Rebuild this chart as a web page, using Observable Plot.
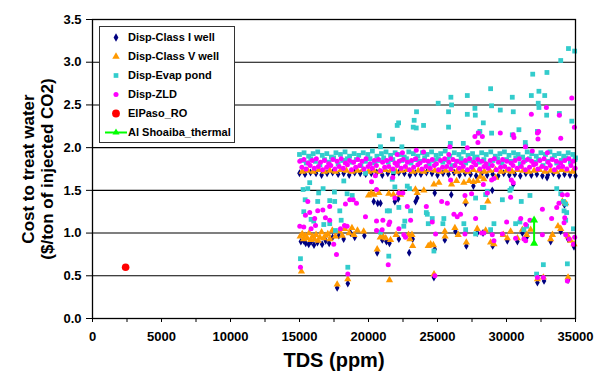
<!DOCTYPE html>
<html>
<head>
<meta charset="utf-8">
<script src="https://cdn.jsdelivr.net/npm/d3@7"></script>
<script src="https://cdn.jsdelivr.net/npm/@observablehq/plot@0.6"></script>
<style>
  body { margin: 0; background: #fff; }
  #wrap { position: relative; width: 595px; height: 373px; font-family: "Liberation Sans", Arial, sans-serif; }
  #legend { position: absolute; left: 99px; top: 26px; width: 136px; height: 117px; border: 1px solid #333; background: #fff; box-sizing: border-box; font: bold 11px "Liberation Sans", Arial, sans-serif; color: #000; }
  .row { position: absolute; left: 0; height: 19px; line-height: 19px; white-space: nowrap; }
  .row svg { position: absolute; left: 0; top: 0; }
  .row span { position: absolute; left: 28px; top: 0; }
</style>
</head>
<body>
<div id="wrap"><div id="chart"></div><div id="legend"></div></div>
<script>
// ---------- data: [TDS ppm, cost $/ton injected CO2] ----------
const classIBand = [[15000,1.70],[15400,1.69],[15800,1.71],[16200,1.70],[16600,1.68],[17000,1.70],[17400,1.71],[17800,1.69],[18200,1.70],[18600,1.68],[19000,1.71],[19400,1.70],[19800,1.69],[20200,1.70],[20600,1.71],[21000,1.68],[21400,1.70],[21800,1.69],[22200,1.71],[22600,1.70],[23000,1.68],[23400,1.70],[23800,1.69],[24200,1.71],[24600,1.70],[25000,1.68],[25400,1.70],[25800,1.69],[26200,1.71],[26600,1.68],[27000,1.70],[27400,1.69],[27800,1.67],[28200,1.70],[28600,1.68],[29000,1.69],[29400,1.67],[29800,1.70],[30200,1.68],[30600,1.69],[31000,1.67],[31400,1.70],[31800,1.68],[32200,1.69],[32600,1.67],[33000,1.68],[33400,1.70],[33800,1.67],[34200,1.69],[34600,1.68],[35000,1.67]];
const classIOut = [[15100,0.90],[15310,0.91],[15450,0.88],[15670,0.87],[15850,0.90],[16050,0.86],[16300,0.89],[16640,0.87],[16900,0.91],[17150,0.88],[17400,0.95],[17730,0.36],[17850,0.97],[18200,0.93],[18500,0.41],[18700,1.00],[19000,0.95],[19700,0.97],[20380,1.37],[20670,1.35],[20870,1.35],[20630,0.77],[21000,0.92],[21300,0.90],[21520,0.88],[21910,1.37],[22150,1.40],[22200,0.93],[22950,0.77],[23200,0.93],[23410,1.37],[23530,1.41],[24740,0.48],[24800,1.47],[24800,0.81],[25530,0.92],[26000,1.45],[26300,1.02],[27040,1.35],[27090,0.85],[27600,1.55],[27880,1.00],[28300,1.00],[28970,1.50],[29000,0.85],[30060,0.91],[30490,1.57],[30790,0.90],[31150,1.00],[31460,0.95],[32240,0.42],[32720,0.44],[32940,1.65],[33200,0.90],[33930,1.02],[34200,1.33],[34460,0.93],[34460,0.45],[34890,0.84]];

const classVBand = [[15200,1.72],[15600,1.73],[16000,1.72],[16400,1.74],[16800,1.72],[17200,1.73],[17600,1.72],[18000,1.74],[18400,1.73],[18800,1.72],[19200,1.73],[19600,1.74],[20000,1.72],[20400,1.73],[20800,1.72],[21200,1.74],[21600,1.73],[22000,1.72],[22400,1.73],[22800,1.74],[23200,1.72],[23600,1.73],[24000,1.72],[24400,1.74],[24800,1.73],[25200,1.72],[25600,1.73],[26000,1.74],[26400,1.72],[26800,1.73],[27200,1.72],[27600,1.74],[28000,1.73],[28400,1.72],[28800,1.73],[29200,1.74],[29600,1.72],[30000,1.73],[30400,1.72],[30800,1.74],[31200,1.73],[31600,1.72],[32000,1.73],[32400,1.74],[32800,1.72],[33200,1.73],[33600,1.72],[34000,1.74],[34400,1.73],[34800,1.72]];
const classVOut = [[15050,0.96],[15140,0.55],[15200,0.99],[15300,0.93],[15420,0.97],[15560,0.94],[15700,1.00],[15820,0.92],[15950,0.96],[16080,0.93],[16200,0.98],[16350,0.91],[16480,0.95],[16600,1.01],[16750,0.94],[16900,0.97],[17050,0.99],[17200,0.93],[17380,1.03],[17600,0.96],[17730,0.40],[17900,1.02],[18100,0.97],[18280,1.05],[18500,0.46],[18600,1.00],[18800,1.06],[18950,0.98],[19200,1.03],[19650,1.02],[20000,1.44],[20200,1.47],[20400,1.45],[20630,0.81],[20750,1.47],[20850,0.95],[21050,0.96],[21250,0.94],[21470,1.46],[21520,0.45],[21600,0.92],[21800,1.45],[22000,0.98],[22200,1.47],[22320,1.45],[22900,0.98],[23000,0.93],[23150,0.98],[23200,0.85],[23400,1.51],[23530,1.47],[24010,1.50],[24330,0.85],[24500,0.87],[24700,0.86],[24740,1.57],[24750,0.52],[25100,1.59],[25530,1.02],[25550,0.96],[26020,1.57],[26260,1.06],[26380,1.61],[26500,0.98],[26910,1.59],[27040,1.37],[27090,0.89],[27300,1.61],[27600,1.60],[27880,1.05],[27900,1.61],[28100,1.66],[28360,1.63],[28650,1.37],[28490,1.03],[28850,0.89],[29090,0.87],[29210,1.65],[29770,0.98],[30060,0.94],[30300,1.02],[30790,0.94],[31150,1.04],[31460,0.98],[31750,1.04],[32240,0.46],[32670,0.48],[33200,0.93],[33330,0.98],[33730,1.08],[33930,1.05],[34050,1.37],[34290,1.35],[34460,0.96],[34460,0.48],[34650,0.91],[34890,0.87]];

const evapBand = [[15000,1.92],[15330,1.94],[15660,1.90],[15990,1.93],[16320,1.95],[16650,1.91],[16980,1.93],[17310,1.89],[17640,1.94],[17970,1.92],[18300,1.95],[18630,1.90],[18960,1.93],[19290,1.91],[19620,1.94],[19950,1.92],[20280,1.96],[20610,1.90],[20940,1.93],[21270,1.95],[21600,1.91],[21930,1.94],[22260,1.92],[22590,1.89],[22920,1.95],[23250,1.93],[23580,1.90],[23910,1.94],[24240,1.92],[24570,1.95],[24900,1.91],[25230,1.93],[25560,1.96],[25890,1.90],[26220,1.94],[26550,1.92],[26880,1.95],[27210,1.91],[27540,1.93],[27870,1.89],[28200,1.94],[28530,1.92],[28860,1.95],[29190,1.90],[29520,1.93],[29850,1.95],[30180,1.91],[30510,1.94],[30840,1.92],[31170,1.89],[31500,1.95],[31830,1.93],[32160,1.90],[32490,1.94],[32820,1.92],[33150,1.95],[33480,1.91],[33810,1.93],[34140,1.90],[34470,1.94],[34800,1.92],[35000,1.88],
  [15160,1.85],[15490,1.82],[15820,1.87],[16150,1.84],[16480,1.80],[16810,1.86],[17140,1.83],[17470,1.88],[17800,1.81],[18130,1.85],[18460,1.87],[18790,1.83],[19120,1.86],[19450,1.79],[19780,1.84],[20110,1.87],[20440,1.82],[20770,1.85],[21100,1.88],[21430,1.83],[21760,1.86],[22090,1.80],[22420,1.85],[22750,1.87],[23080,1.82],[23410,1.86],[23740,1.84],[24070,1.88],[24400,1.81],[24730,1.85],[25060,1.87],[25390,1.83],[25720,1.86],[26050,1.79],[26380,1.84],[26710,1.87],[27040,1.82],[27370,1.85],[27700,1.88],[28030,1.83],[28360,1.86],[28690,1.80],[29020,1.85],[29350,1.87],[29680,1.82],[30010,1.86],[30340,1.84],[30670,1.88],[31000,1.81],[31330,1.85],[31660,1.87],[31990,1.83],[32320,1.86],[32650,1.79],[32980,1.84],[33310,1.87],[33640,1.82],[33970,1.85],[34300,1.88],[34630,1.83],[34960,1.86]];
const evapOut = [[34490,3.16],[34940,3.13],[33930,3.02],[31900,2.86],[32930,2.88],[28850,2.69],[25970,2.59],[26020,2.50],[25800,2.42],[27160,2.61],[25050,2.52],[23480,2.42],[22080,2.26],[22180,2.29],[23310,2.32],[23240,2.24],[23460,2.23],[23990,2.26],[20780,2.14],[20870,2.01],[21740,2.10],[22420,2.01],[25800,2.24],[25930,2.05],[26870,2.05],[27160,2.39],[27710,2.46],[27740,2.38],[28320,2.29],[28070,2.19],[27960,2.17],[28920,2.49],[28920,2.17],[29550,2.44],[30420,2.59],[30490,2.42],[30900,2.21],[30420,2.15],[31360,2.06],[31800,2.61],[32350,2.66],[32770,2.61],[32300,2.52],[32350,2.47],[32910,2.38],[32240,2.19],[33830,2.40],[34730,2.31],[31390,2.02],
  [21720,1.63],[21910,1.54],[18210,1.61],[15740,1.59],[15260,1.51],[15600,1.52],[16710,1.52],[17530,1.48],[16390,1.47],[15410,1.39],[16320,1.37],[17190,1.38],[17550,1.37],[18450,1.46],[18820,1.44],[17920,1.26],[15310,1.25],[15840,1.16],[16030,1.14],[16760,1.10],[17190,1.11],[18020,1.15],[17600,1.03],[21360,1.26],[15070,0.70],[18500,0.60],[21470,0.73],[20870,1.01],[21520,1.26],[22200,1.30],[23050,1.26],[24260,1.22],[24190,1.24],[24620,1.17],[22630,1.14],[22560,1.08],[24330,1.11],[25460,1.17],[25390,1.11],[26910,1.11],[27760,1.41],[28250,1.30],[24740,0.79],[29700,1.39],[31070,1.37],[31700,1.44],[30350,1.52],[30250,1.50],[28610,1.49],[28490,1.45],[28360,1.30],[29090,1.11],[30660,1.11],[30970,1.13],[31260,1.04],[31460,1.08],[28850,1.04],[32670,0.63],[32180,0.52],[34410,0.64],[34850,1.05],[34290,1.15],[33640,1.52],[33930,1.46],[34120,1.37],[34290,1.34],[34170,1.26],[34360,1.24],[19780,1.70],[21800,1.72],[22810,1.55],[22970,1.52],[27040,1.04],[27760,0.99]];

const zldBand = [[15020,1.84],[15320,1.86],[15620,1.82],[15920,1.85],[16220,1.87],[16520,1.83],[16820,1.85],[17120,1.81],[17420,1.86],[17720,1.84],[18020,1.87],[18320,1.82],[18620,1.85],[18920,1.83],[19220,1.86],[19520,1.84],[19820,1.87],[20120,1.81],[20420,1.85],[20720,1.86],[21020,1.83],[21320,1.85],[21620,1.87],[21920,1.82],[22220,1.84],[22520,1.86],[22820,1.83],[23120,1.85],[23420,1.87],[23720,1.82],[24020,1.85],[24320,1.84],[24620,1.86],[24920,1.81],[25220,1.85],[25520,1.87],[25820,1.83],[26120,1.86],[26420,1.84],[26720,1.82],[27020,1.85],[27320,1.87],[27620,1.83],[27920,1.86],[28220,1.84],[28520,1.81],[28820,1.85],[29120,1.87],[29420,1.83],[29720,1.86],[30020,1.84],[30320,1.82],[30620,1.85],[30920,1.87],[31220,1.83],[31520,1.86],[31820,1.84],[32120,1.81],[32420,1.85],[32720,1.87],[33020,1.83],[33320,1.86],[33620,1.84],[33920,1.82],[34220,1.85],[34520,1.87],[34820,1.84],
  [15170,1.77],[15470,1.75],[15770,1.79],[16070,1.76],[16370,1.78],[16670,1.74],[16970,1.77],[17270,1.79],[17570,1.75],[17870,1.78],[18170,1.76],[18470,1.80],[18770,1.74],[19070,1.77],[19370,1.79],[19670,1.75],[19970,1.78],[20270,1.76],[20570,1.79],[20870,1.73],[21170,1.77],[21470,1.78],[21770,1.75],[22070,1.79],[22370,1.76],[22670,1.78],[22970,1.74],[23270,1.77],[23570,1.80],[23870,1.75],[24170,1.78],[24470,1.76],[24770,1.79],[25070,1.74],[25370,1.77],[25670,1.78],[25970,1.75],[26270,1.79],[26570,1.76],[26870,1.78],[27170,1.74],[27470,1.77],[27770,1.80],[28070,1.75],[28370,1.78],[28670,1.76],[28970,1.79],[29270,1.74],[29570,1.77],[29870,1.78],[30170,1.75],[30470,1.79],[30770,1.76],[31070,1.78],[31370,1.74],[31670,1.77],[31970,1.80],[32270,1.75],[32570,1.78],[32870,1.76],[33170,1.79],[33470,1.74],[33770,1.77],[34070,1.78],[34370,1.75],[34670,1.79],[34970,1.76]];
const zldOut = [[34730,2.58],[34920,2.24],[32890,2.47],[31800,2.39],[33830,2.38],[33930,2.11],[27710,2.13],[27930,2.06],[29550,2.17],[30490,2.15],[30540,2.12],[32240,2.17],[32330,2.19],[32280,2.10],[31370,2.01],[31870,1.96],[32960,1.94],[25900,2.01],[25820,1.92],[27160,2.00],[22080,1.92],[22460,1.94],[23460,1.97],[23990,1.95],[28250,2.13],[27960,2.17],
  [20220,1.60],[20580,1.51],[15600,1.37],[16690,1.27],[16320,1.26],[15740,1.24],[15430,1.21],[17190,1.31],[18640,1.39],[18890,1.39],[19130,1.35],[18330,1.34],[19780,1.19],[16880,1.18],[17190,1.15],[16100,1.17],[15310,1.07],[15020,1.08],[15840,1.05],[16160,1.09],[17970,1.05],[18260,1.09],[18450,1.08],[20580,1.14],[21040,1.15],[21540,1.13],[20580,1.03],[20990,1.04],[17480,0.87],[17680,0.75],[15070,0.60],[18500,0.52],[21430,0.63],[20500,1.67],
  [21470,1.10],[21760,1.65],[22200,1.47],[22490,1.47],[21910,1.41],[22810,1.31],[23050,1.15],[22200,1.05],[22560,0.98],[22680,0.95],[24190,1.31],[24620,1.13],[24860,0.99],[25300,1.37],[25710,1.35],[25950,1.62],[26190,1.22],[26430,1.19],[26670,1.22],[26990,0.99],[26990,1.44],[27470,1.46],[27760,1.17],[24810,0.50],[28200,1.00],
  [28920,1.62],[29090,1.64],[28320,1.57],[30350,1.62],[30490,1.59],[28610,1.47],[30300,1.42],[32600,1.28],[33640,1.30],[33800,1.35],[34050,1.45],[34410,1.45],[34220,1.18],[34170,1.12],[30010,1.13],[31030,1.17],[31700,1.15],[31390,1.10],[33270,1.17],[28360,1.00],[28970,0.98],[29090,0.91],[29700,0.99],[30660,0.94],[31260,0.93],[31390,0.91],[32600,0.98],[34290,0.98],[34530,0.93],[34850,0.87],[34940,0.95],[32240,0.48],[32670,0.48],[34410,0.44]];

const elPasoRO = [[2400,0.60]];
const alShoaibaThermal = [[32000,1.15],[32000,0.88]];

const seriesNames = ["Disp-Class I well","Disp-Class V well","Disp-Evap pond","Disp-ZLD","ElPaso_RO","Al Shoaiba_thermal"];
const seriesColors = ["#000080","#FF9900","#33CCCC","#FF00FF","#FF0000","#00FF00"];
const xTicks = [0,2500,5000,7500,10000,12500,15000,17500,20000,22500,25000,27500,30000,32500,35000];
const xLabelTicks = [0,5000,10000,15000,20000,25000,30000,35000];
const yTicks = [0,0.5,1,1.5,2,2.5,3,3.5];
const xTitle = "TDS (ppm)";
const yTitle = "Cost to treat water\n($/ton of injected CO2)";

// ---------- build ----------
const rows = (arr) => arr.map(([tds, cost]) => ({tds, cost}));
const classI = rows(classIBand.concat(classIOut));
const classV = rows(classVBand.concat(classVOut));
const evap = rows(evapBand.concat(evapOut));
const zld = rows(zldBand.concat(zldOut));
const elPaso = rows(elPasoRO);
const alShoaiba = rows(alShoaibaThermal);

const font = "'Liberation Sans', Arial, sans-serif";

const chart = Plot.plot({
  width: 595,
  height: 373,
  marginLeft: 92,
  marginRight: 20,
  marginTop: 19,
  marginBottom: 55,
  style: {fontFamily: font, fontWeight: "bold", fontSize: "13px", color: "#000", background: "#fff", overflow: "visible"},
  x: {domain: [0, 35000], label: null},
  y: {domain: [0, 3.5], label: null},
  marks: [
    Plot.ruleY(yTicks.filter(d => d > 0 && d < 3.5), {stroke: "#000", strokeWidth: 1.1}),
    Plot.dot(classI, {x: "tds", y: "cost", symbol: "diamond", r: 2.4, fill: seriesColors[0]}),
    Plot.dot(classV, {x: "tds", y: "cost", symbol: "triangle", r: 2.7, fill: seriesColors[1]}),
    Plot.dot(evap, {x: "tds", y: "cost", symbol: "square", r: 2.7, fill: seriesColors[2]}),
    Plot.dot(zld, {x: "tds", y: "cost", symbol: "circle", r: 2.5, fill: seriesColors[3]}),
    Plot.dot(elPaso, {x: "tds", y: "cost", symbol: "circle", r: 3.8, fill: seriesColors[4]}),
    Plot.line(alShoaiba, {x: "tds", y: "cost", stroke: seriesColors[5], strokeWidth: 2}),
    Plot.dot(alShoaiba, {x: "tds", y: "cost", symbol: "triangle", r: 3, fill: seriesColors[5]}),
    Plot.frame({stroke: "#000", strokeWidth: 1.3}),
    Plot.axisX({ticks: xTicks, tickFormat: d => xLabelTicks.includes(d) ? String(d) : "", tickSize: 4, tickPadding: 9, fontSize: 13, fontWeight: "bold", label: null, stroke: "#000"}),
    Plot.axisY({ticks: yTicks, tickFormat: d => d.toFixed(1), tickSize: 6, tickPadding: 5, fontSize: 13, fontWeight: "bold", label: null}),
    Plot.text([yTitle], {text: d => d, frameAnchor: "left", rotate: -90, dx: -55, textAnchor: "middle", lineAnchor: "middle", lineHeight: 1.12, fontSize: 17, fontWeight: "bold", fill: "#000"}),
    Plot.text([xTitle], {text: d => d, frameAnchor: "bottom", dy: 42, textAnchor: "middle", lineAnchor: "middle", fontSize: 20, fontWeight: "bold", fill: "#000"})
  ]
});
document.getElementById("chart").appendChild(chart);

// ---------- legend ----------
const legend = d3.select("#legend");
const symbols = [d3.symbolDiamond, d3.symbolTriangle, d3.symbolSquare, d3.symbolCircle, d3.symbolCircle, d3.symbolTriangle];
const sizes = [20, 24, 22, 20, 48, 22];
seriesNames.forEach((name, i) => {
  const row = legend.append("div").attr("class", "row").style("top", (1 + i * 19) + "px").style("width", "134px");
  const svg = row.append("svg").attr("width", 28).attr("height", 19);
  if (i === 5) {
    svg.append("line").attr("x1", 5).attr("x2", 27).attr("y1", 9.5).attr("y2", 9.5).attr("stroke", seriesColors[i]).attr("stroke-width", 2);
  }
  svg.append("path").attr("transform", "translate(16,9.5)").attr("d", d3.symbol(symbols[i], sizes[i])()).attr("fill", seriesColors[i]);
  row.append("span").text(name);
});
</script>
</body>
</html>
